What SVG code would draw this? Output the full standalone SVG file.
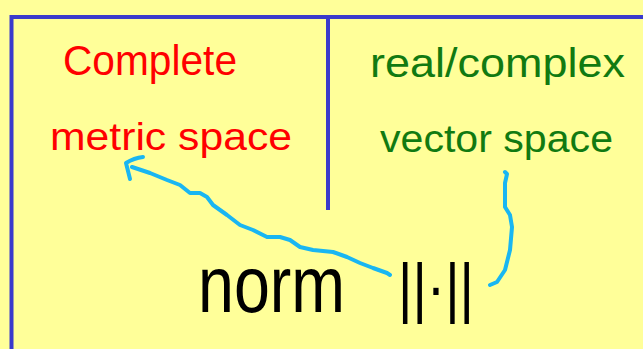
<svg xmlns="http://www.w3.org/2000/svg" width="643" height="349" viewBox="0 0 643 349">
<style>
.frame{stroke:#3a3acc;stroke-width:4;fill:none;stroke-linecap:butt}
.conn{stroke:#19b6f2;stroke-width:4;fill:none;stroke-linecap:round;stroke-linejoin:round}
.t{font-family:"Liberation Sans",Arial,sans-serif}
.red{fill:#ff0000}
.green{fill:#117a11}
.black{fill:#000000}
</style>
<rect x="0" y="0" width="643" height="349" fill="#ffff99"/>
<g id="frame">
<path class="frame" d="M9.5,17 H643 M11.5,15 V349 M328,17 V210"/>
</g>
<g id="node-complete-metric">
<text class="t red" x="63" y="75" font-size="42" textLength="174" lengthAdjust="spacingAndGlyphs">Complete</text>
<text class="t red" x="50" y="150" font-size="38" textLength="242" lengthAdjust="spacingAndGlyphs">metric space</text>
</g>
<g id="node-vector-space">
<text class="t green" x="370" y="77" font-size="40" textLength="255" lengthAdjust="spacingAndGlyphs">real/complex</text>
<text class="t green" x="380" y="152" font-size="38" textLength="233" lengthAdjust="spacingAndGlyphs">vector space</text>
</g>
<g id="node-norm">
<text class="t black" y="312" font-size="80"><tspan x="198" textLength="147" lengthAdjust="spacingAndGlyphs">norm</tspan><tspan x="398" y="310" font-size="66" textLength="76" lengthAdjust="spacingAndGlyphs">||·||</tspan></text>
</g>
<g id="connectors">
<path class="conn" d="M132,167 L150,173 L167,180 L180,185 L190,193 L200,193 L207,197 L213,205 L227,215 L240,225 L253,230 L267,237 L280,237 L290,240 L300,247 L313,250 L333,252 L347,257 L360,263 L373,268 L387,273 L390,275"/>
<path class="conn" d="M130,179 L126,163 Q134,158 143,157"/>
<path class="conn" d="M505,172 L507,174 L505,183 L505,207 L510,215 L512,227 L510,250 L505,270 L497,282 L490,285"/>
</g>
</svg>
